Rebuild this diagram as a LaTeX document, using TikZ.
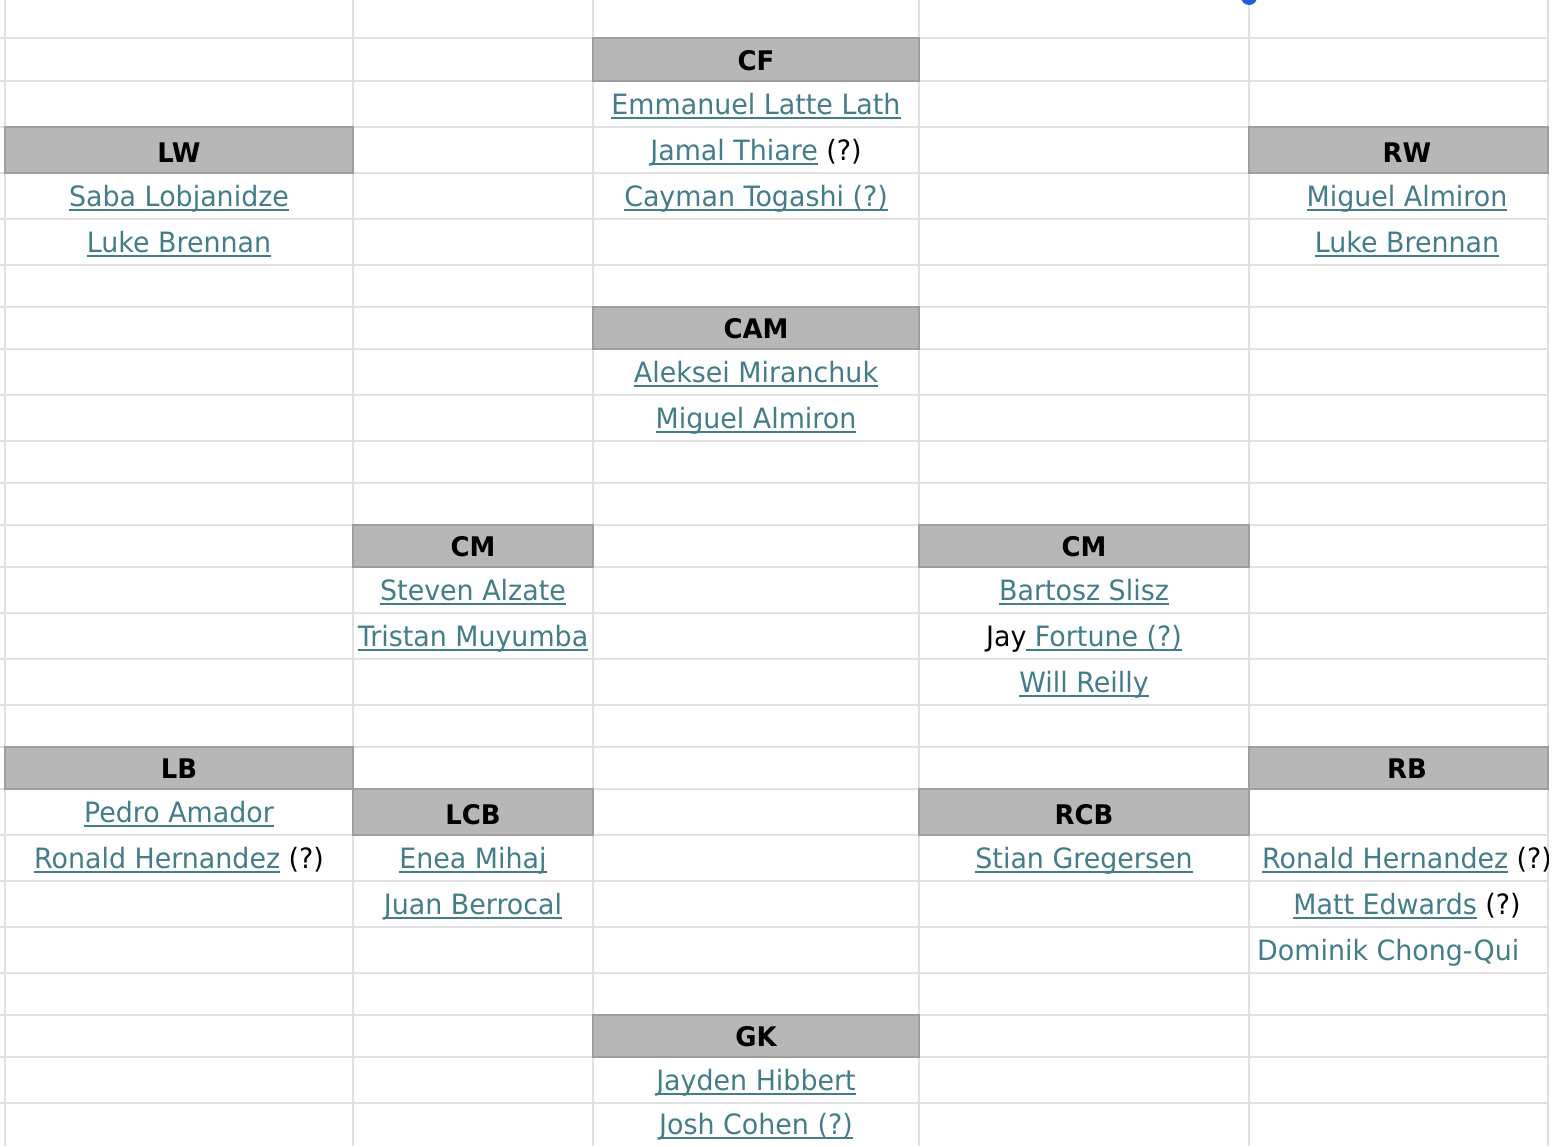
\documentclass[tikz,border=0pt]{standalone}
\usepackage{fontspec}
\setmainfont{DejaVu Sans}[FakeStretch=0.96]
\definecolor{lnk}{HTML}{437D89}
\definecolor{gridc}{HTML}{E1E1E1}
\definecolor{hdrfill}{HTML}{B7B7B7}
\definecolor{hdrline}{HTML}{9E9E9E}
\definecolor{selblue}{HTML}{1A5FD6}
\newcommand\lnk[1]{{\color{lnk}\setbox0=\hbox{#1}\rlap{\rule[-4pt]{\wd0}{1.8pt}}\box0}}
\newcommand\qm{\textcolor{black}{\ (?)}}
\begin{document}
\begin{tikzpicture}[x=1pt,y=-1pt,
  gridline/.style={draw=gridc, line width=1.6pt},
  hdrbox/.style={draw=hdrline, line width=1.4pt, fill=hdrfill, inner sep=0pt},
  htext/.style={anchor=base, inner sep=0pt, text=black, font=\fontsize{27}{32}\selectfont\bfseries},
  player/.style={anchor=base, inner sep=0pt, text=lnk, font=\fontsize{28}{32}\selectfont}]
\useasboundingbox (0,0) rectangle (1554,1146);
\fill[white] (0,0) rectangle (1554,1146);
% grid
\foreach \yy in {38,81,127,173,219,265,307,349,395,441,483,525,567,613,659,705,747,789,835,881,927,973,1015,1057,1103}
  \draw[gridline] (0,\yy) -- (1548,\yy);
\foreach \xx in {5,353,593,919,1249,1548}
  \draw[gridline] (\xx,0) -- (\xx,1146);
% selection handle
\fill[selblue] (1249,-3) circle[radius=8pt];
% header boxes
\node[hdrbox, minimum width=326pt, minimum height=43pt] (cfbox) at (756,59.5) {};
\node[hdrbox, minimum width=348pt, minimum height=46pt] (lwbox) at (179,150) {};
\node[hdrbox, minimum width=299pt, minimum height=46pt] (rwbox) at (1398.5,150) {};
\node[hdrbox, minimum width=326pt, minimum height=42pt] (cambox) at (756,328) {};
\node[hdrbox, minimum width=240pt, minimum height=42pt] (cmlbox) at (473,546) {};
\node[hdrbox, minimum width=330pt, minimum height=42pt] (cmrbox) at (1084,546) {};
\node[hdrbox, minimum width=348pt, minimum height=42pt] (lbbox) at (179,768) {};
\node[hdrbox, minimum width=299pt, minimum height=42pt] (rbbox) at (1398.5,768) {};
\node[hdrbox, minimum width=240pt, minimum height=46pt] (lcbbox) at (473,812) {};
\node[hdrbox, minimum width=330pt, minimum height=46pt] (rcbbox) at (1084,812) {};
\node[hdrbox, minimum width=326pt, minimum height=42pt] (gkbox) at (756,1036) {};
% header texts
\node[htext] (cf) at (756,70) {CF};
\node[htext] (lw) at (179,162) {LW};
\node[htext] (rw) at (1407,162) {RW};
\node[htext] (cam) at (756,338) {CAM};
\node[htext] (cml) at (473,556) {CM};
\node[htext] (cmr) at (1084,556) {CM};
\node[htext] (lb) at (179,778) {LB};
\node[htext] (rb) at (1407,778) {RB};
\node[htext] (lcb) at (473,824) {LCB};
\node[htext] (rcb) at (1084,824) {RCB};
\node[htext] (gk) at (756,1046) {GK};
% CF
\node[player] (cf1) at (756,114.5) {\lnk{Emmanuel Latte Lath}};
\node[player] (cf2) at (756,160.5) {\lnk{Jamal Thiare}\qm};
\node[player] (cf3) at (756,206.5) {\lnk{Cayman Togashi (?)}};
% LW
\node[player] (lw1) at (179,206.5) {\lnk{Saba Lobjanidze}};
\node[player] (lw2) at (179,252.5) {\lnk{Luke Brennan}};
% RW
\node[player] (rw1) at (1407,206.5) {\lnk{Miguel Almiron}};
\node[player] (rw2) at (1407,252.5) {\lnk{Luke Brennan}};
% CAM
\node[player] (cam1) at (756,382.5) {\lnk{Aleksei Miranchuk}};
\node[player] (cam2) at (756,428.5) {\lnk{Miguel Almiron}};
% CM left
\node[player] (cml1) at (473,600.5) {\lnk{Steven Alzate}};
\node[player] (cml2) at (473,646.5) {\lnk{Tristan Muyumba}};
% CM right
\node[player] (cmr1) at (1084,600.5) {\lnk{Bartosz Slisz}};
\node[player] (cmr2) at (1084,646.5) {\textcolor{black}{Jay}\lnk{\ Fortune (?)}};
\node[player] (cmr3) at (1084,692.5) {\lnk{Will Reilly}};
% LB
\node[player] (lb1) at (179,822.5) {\lnk{Pedro Amador}};
\node[player] (lb2) at (179,868.5) {\lnk{Ronald Hernandez}\qm};
% LCB
\node[player] (lcb1) at (473,868.5) {\lnk{Enea Mihaj}};
\node[player] (lcb2) at (473,914.5) {\lnk{Juan Berrocal}};
% RCB
\node[player] (rcb1) at (1084,868.5) {\lnk{Stian Gregersen}};
% RB
\begin{scope}
\clip (1249,835) rectangle (1548,881);
\node[player] (rb1) at (1407,868.5) {\lnk{Ronald Hernandez}\qm};
\end{scope}
\node[player] (rb2) at (1407,914.5) {\lnk{Matt Edwards}\qm};
\node[player, anchor=base west] (rb3) at (1257,960.5) {Dominik Chong-Qui};
% GK
\node[player] (gk1) at (756,1090.5) {\lnk{Jayden Hibbert}};
\node[player] (gk2) at (756,1134.5) {\lnk{Josh Cohen (?)}};
\end{tikzpicture}
\end{document}
